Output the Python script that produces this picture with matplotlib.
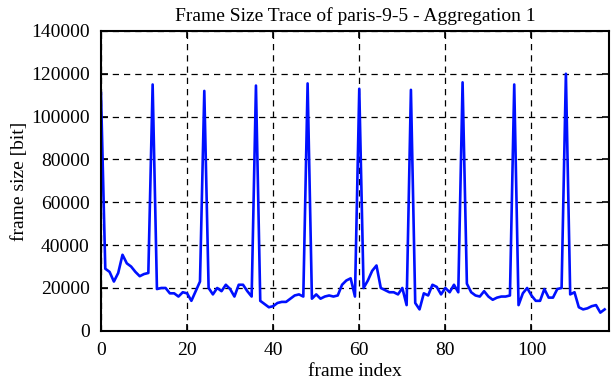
import matplotlib
matplotlib.use("Agg")
import matplotlib.pyplot as plt

# frame sizes (bits), one per frame
frame_size = [
    111000, 29000, 27500, 23000, 27000, 35500, 31500, 30000, 27500, 25500,
    26500, 27000, 115000, 19500, 20000, 20000, 17500, 17500, 16000, 18000,
    17500, 14000, 18500, 23000, 112000, 20000, 17000, 20000, 18500, 21500,
    19500, 16000, 21500, 21500, 18500, 16000, 114500, 14000, 12500, 11000,
    11500, 13000, 13500, 13500, 15000, 16500, 17000, 16000, 115500, 15000,
    17000, 15000, 16000, 16500, 16000, 16500, 21500, 23500, 24500, 16000,
    113000, 20000, 23500, 28000, 30500, 20000, 19000, 18000, 18000, 17000,
    20000, 12000, 112500, 13000, 10000, 17500, 16500, 21500, 20500, 17000,
    20000, 18000, 21500, 18000, 116000, 22000, 18000, 16500, 16000, 18500,
    16000, 14500, 15500, 16000, 16000, 16500, 115000, 12000, 17500, 20000,
    16500, 14000, 14000, 19500, 15500, 15500, 19500, 20000, 120000, 17000,
    18000, 11000, 10000, 10500, 11500, 12000, 8500, 10000,
]
frame_index = list(range(len(frame_size)))

xticks = [0, 20, 40, 60, 80, 100]
yticks = [0, 20000, 40000, 60000, 80000, 100000, 120000, 140000]

plt.rcParams['font.family'] = ['Liberation Serif', 'DejaVu Serif']

fig = plt.figure(figsize=(6.12, 3.82), dpi=100)
ax = fig.add_axes([0.165, 0.134, 0.83, 0.785])

ax.plot(frame_index, frame_size, color='#0010ff', linewidth=1.9)

ax.set_xlim(0, 118)
ax.set_ylim(0, 140000)
ax.set_xticks(xticks)
ax.set_yticks(yticks)
ax.tick_params(direction='in', length=5, width=1.2, top=True, right=True,
               labelsize=14, pad=8)
ax.grid(True, color='black', linestyle=(0, (5, 4)), linewidth=0.9)

for s in ax.spines.values():
    s.set_linewidth(1.5)

ax.set_title('Frame Size Trace of paris-9-5 - Aggregation 1', fontsize=14, pad=7)
ax.set_xlabel('frame index', fontsize=14, labelpad=3)
ax.set_ylabel('frame size [bit]', fontsize=14, labelpad=2)

fig.savefig('out.png', dpi=100)
